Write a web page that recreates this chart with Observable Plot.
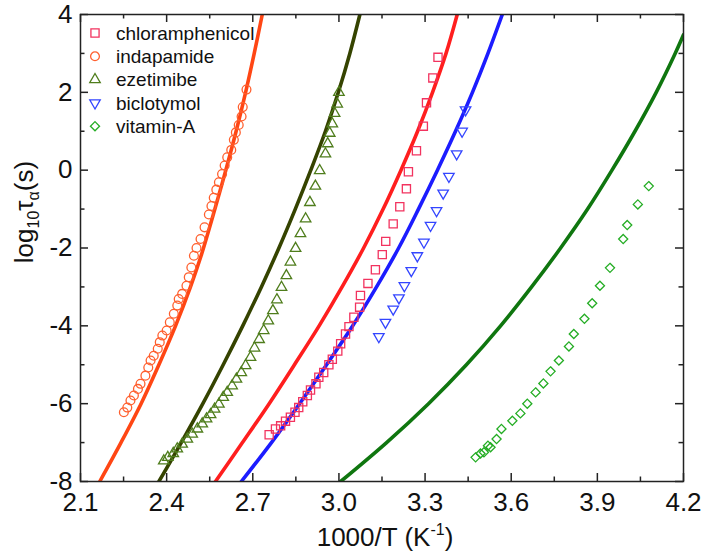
<!DOCTYPE html>
<html><head><meta charset="utf-8">
<script src="https://cdn.jsdelivr.net/npm/d3@7"></script>
<script src="https://cdn.jsdelivr.net/npm/@observablehq/plot@0.6"></script>
<style>body{margin:0;background:#fff} #chart{width:704px;height:555px;position:relative}</style>
</head><body><div id="chart"></div>
<script>
// ---- data ----
const seriesNames = ["chloramphenicol", "indapamide", "ezetimibe", "biclotymol", "vitamin-A"];
const xTicksMajor = [2.1, 2.4, 2.7, 3.0, 3.3, 3.6, 3.9, 4.2];
const xTicksMinor = [2.25, 2.55, 2.85, 3.15, 3.45, 3.75, 4.05];
const yTicksMajor = [-8, -6, -4, -2, 0, 2, 4];
const yTicksMinor = [-7, -5, -3, -1, 1, 3];

const chloramphenicolPoints = [[3.345,2.90],[3.327,2.37],[3.305,1.73],[3.294,1.13],[3.270,0.50],[3.242,-0.04],[3.235,-0.48],[3.212,-0.94],[3.189,-1.38],[3.163,-1.83],[3.151,-2.17],[3.127,-2.56],[3.101,-2.91],[3.075,-3.22],[3.072,-3.52],[3.052,-3.78],[3.035,-4.02],[3.023,-4.21],[3.006,-4.46],[2.996,-4.65],[2.977,-4.86],[2.965,-5.00],[2.947,-5.20],[2.930,-5.32],[2.920,-5.49],[2.901,-5.65],[2.890,-5.79],[2.874,-5.95],[2.860,-6.10],[2.847,-6.22],[2.831,-6.35],[2.814,-6.45],[2.797,-6.57],[2.779,-6.65],[2.757,-6.80]];
const indapamidePoints = [[2.678,2.07],[2.665,1.62],[2.661,1.38],[2.651,1.16],[2.641,0.97],[2.634,0.78],[2.625,0.52],[2.611,0.33],[2.602,0.12],[2.593,-0.10],[2.582,-0.31],[2.573,-0.50],[2.564,-0.71],[2.556,-0.92],[2.547,-1.14],[2.532,-1.47],[2.518,-1.77],[2.504,-2.00],[2.495,-2.20],[2.486,-2.50],[2.477,-2.75],[2.469,-2.97],[2.454,-3.18],[2.442,-3.31],[2.437,-3.48],[2.425,-3.69],[2.411,-3.91],[2.400,-4.12],[2.385,-4.25],[2.376,-4.42],[2.369,-4.59],[2.355,-4.77],[2.344,-4.89],[2.336,-5.07],[2.326,-5.28],[2.309,-5.49],[2.300,-5.62],[2.286,-5.79],[2.274,-5.92],[2.263,-6.10],[2.251,-6.22]];
const ezetimibePoints = [[3.000,2.00],[2.994,1.70],[2.985,1.46],[2.977,1.19],[2.968,0.95],[2.961,0.68],[2.953,0.42],[2.933,-0.01],[2.918,-0.41],[2.899,-0.83],[2.884,-1.25],[2.866,-1.63],[2.849,-2.01],[2.831,-2.36],[2.817,-2.71],[2.800,-3.01],[2.784,-3.33],[2.770,-3.61],[2.754,-3.87],[2.738,-4.12],[2.722,-4.35],[2.706,-4.57],[2.692,-4.81],[2.675,-5.02],[2.660,-5.20],[2.643,-5.37],[2.628,-5.54],[2.611,-5.71],[2.597,-5.84],[2.582,-6.01],[2.567,-6.14],[2.553,-6.28],[2.539,-6.39],[2.524,-6.52],[2.507,-6.65],[2.489,-6.78],[2.472,-6.91],[2.454,-7.04],[2.437,-7.16],[2.423,-7.28],[2.404,-7.38],[2.390,-7.47]];
const biclotymolPoints = [[3.441,1.55],[3.429,1.00],[3.410,0.42],[3.383,-0.16],[3.363,-0.59],[3.340,-1.04],[3.319,-1.42],[3.296,-1.85],[3.273,-2.20],[3.252,-2.58],[3.228,-2.97],[3.209,-3.28],[3.189,-3.57],[3.162,-3.91],[3.139,-4.28]];
const vitaminAPoints = [[3.476,-7.38],[3.493,-7.28],[3.505,-7.25],[3.519,-7.08],[3.528,-7.12],[3.549,-6.91],[3.566,-6.65],[3.604,-6.44],[3.632,-6.25],[3.656,-6.00],[3.685,-5.71],[3.712,-5.48],[3.737,-5.17],[3.766,-4.89],[3.801,-4.53],[3.818,-4.21],[3.855,-3.82],[3.882,-3.42],[3.909,-2.97],[3.944,-2.51],[3.990,-1.77],[4.004,-1.41],[4.041,-0.88],[4.079,-0.41]];

const chloramphenicolFit = [[2.570,-8],[2.664,-7],[2.757,-6],[2.845,-5],[2.931,-4],[3.011,-3],[3.086,-2],[3.154,-1],[3.216,0],[3.274,1],[3.326,2],[3.373,3],[3.412,4]];
const indapamideFit = [[2.167,-8],[2.241,-7],[2.311,-6],[2.373,-5],[2.431,-4],[2.483,-3],[2.520,-2.2],[2.568,-1],[2.606,0],[2.642,1],[2.675,2],[2.705,3],[2.733,4]];
const ezetimibeFit = [[2.373,-8],[2.451,-7],[2.526,-6],[2.597,-5],[2.665,-4],[2.730,-3],[2.791,-2],[2.848,-1],[2.902,0],[2.953,1],[2.998,2],[3.038,3],[3.073,4]];
const biclotymolFit = [[2.660,-8],[2.765,-7],[2.863,-6],[2.957,-5],[3.048,-4],[3.131,-3],[3.208,-2],[3.277,-1],[3.343,0],[3.406,1],[3.465,2],[3.519,3],[3.569,4]];
const vitaminAFit = [[3.006,-8],[3.166,-7],[3.312,-6],[3.444,-5],[3.563,-4],[3.671,-3],[3.772,-2],[3.866,-1],[3.951,0],[4.031,1],[4.105,2],[4.171,3],[4.200,3.48]];

// ---- styles ----
const triangleDown = {
  draw(context, size) {
    const y = Math.sqrt(size / (Math.sqrt(3) * 3));
    context.moveTo(0, y * 2);
    context.lineTo(-Math.sqrt(3) * y, -y);
    context.lineTo(Math.sqrt(3) * y, -y);
    context.closePath();
  }
};
const styles = {
  "chloramphenicol": {points: chloramphenicolPoints, fit: chloramphenicolFit, symbol: d3.symbolSquare, r: 4.6, marker: "#f2335f", line: "#ff1e1e"},
  "indapamide": {points: indapamidePoints, fit: indapamideFit, symbol: d3.symbolCircle, r: 4.4, marker: "#ff5f2e", line: "#ff4614"},
  "ezetimibe": {points: ezetimibePoints, fit: ezetimibeFit, symbol: d3.symbolTriangle, r: 3.9, marker: "#4f7d1c", line: "#354300"},
  "biclotymol": {points: biclotymolPoints, fit: biclotymolFit, symbol: triangleDown, r: 3.9, marker: "#3345ff", line: "#1c1cff"},
  "vitamin-A": {points: vitaminAPoints, fit: vitaminAFit, symbol: d3.symbolDiamond2, r: 4.1, marker: "#24ad24", line: "#0f760f"}
};

const W = 704, H = 555, mL = 80, mR = 21, mT = 14, mB = 74;
const plotW = W - mL - mR, plotH = H - mT - mB;
const majorLen = 8, minorLen = 4.5, axisColor = "#222";

const lineMarks = seriesNames.map(name => Plot.line(styles[name].fit.map(([x, y]) => ({x, y})), {
  x: "x", y: "y", stroke: styles[name].line, strokeWidth: 3.6, curve: "catmull-rom", clip: true
}));
const dotMarks = seriesNames.map(name => Plot.dot(styles[name].points.map(([x, y]) => ({x, y})), {
  x: "x", y: "y", symbol: styles[name].symbol, r: styles[name].r, stroke: styles[name].marker, strokeWidth: 1.3, fill: "none"
}));
const tickOpts = {stroke: axisColor, strokeWidth: 1.5};
const tickMarks = [
  Plot.tickX(xTicksMajor, {x: d => d, insetTop: plotH - majorLen, ...tickOpts}),
  Plot.tickX(xTicksMajor, {x: d => d, insetBottom: plotH - majorLen, ...tickOpts}),
  Plot.tickX(xTicksMinor, {x: d => d, insetTop: plotH - minorLen, ...tickOpts}),
  Plot.tickX(xTicksMinor, {x: d => d, insetBottom: plotH - minorLen, ...tickOpts}),
  Plot.tickY(yTicksMajor, {y: d => d, insetRight: plotW - majorLen, ...tickOpts}),
  Plot.tickY(yTicksMajor, {y: d => d, insetLeft: plotW - majorLen, ...tickOpts}),
  Plot.tickY(yTicksMinor, {y: d => d, insetRight: plotW - minorLen, ...tickOpts}),
  Plot.tickY(yTicksMinor, {y: d => d, insetLeft: plotW - minorLen, ...tickOpts})
];

const chart = Plot.plot({
  width: W, height: H,
  marginLeft: mL, marginRight: mR, marginTop: mT, marginBottom: mB,
  x: {domain: [2.1, 4.2]},
  y: {domain: [-8, 4]},
  style: {fontFamily: "'Liberation Sans', Arial, sans-serif", fontSize: "26px", color: "#111", background: "#fff"},
  marks: [
    ...lineMarks,
    ...dotMarks,
    ...tickMarks,
    Plot.frame({stroke: axisColor, strokeWidth: 1.5}),
    Plot.axisX(xTicksMajor, {anchor: "bottom", tickSize: 0, tickPadding: 11, tickFormat: d => d.toFixed(1), label: null}),
    Plot.axisY(yTicksMajor, {anchor: "left", tickSize: 0, tickPadding: 8, tickFormat: d => String(d), label: null})
  ]
});
document.getElementById("chart").appendChild(chart);

// ---- titles and legend ----
const svg = d3.select(chart);
const ff = "'Liberation Sans', Arial, sans-serif";
const yt = svg.append("text").attr("transform", "translate(33,212) rotate(-90)")
  .attr("text-anchor", "middle").attr("font-size", 26).attr("font-family", ff).attr("fill", "#111");
yt.append("tspan").text("log");
yt.append("tspan").attr("font-size", 16).attr("dy", 6).text("10");
yt.append("tspan").attr("dy", -6).text("τ");
yt.append("tspan").attr("font-size", 16).attr("dy", 6).text("α");
yt.append("tspan").attr("dy", -6).text("(s)");

const xt = svg.append("text").attr("x", 385).attr("y", 546)
  .attr("text-anchor", "middle").attr("font-size", 26).attr("font-family", ff).attr("fill", "#111");
xt.append("tspan").text("1000/T (K");
xt.append("tspan").attr("font-size", 16).attr("dy", -11).text("-1");
xt.append("tspan").attr("dy", 11).text(")");

const lg = svg.append("g").attr("font-family", ff).attr("font-size", 19).attr("fill", "#111").attr("text-anchor", "start");
seriesNames.forEach((name, i) => {
  const s = styles[name];
  const yy = 33 + i * 23.3;
  lg.append("path").attr("transform", `translate(95,${yy})`)
    .attr("d", d3.symbol(s.symbol, s.r * s.r * Math.PI)())
    .attr("fill", "none").attr("stroke", s.marker).attr("stroke-width", 1.3);
  lg.append("text").attr("x", 116).attr("y", yy).attr("dy", "0.35em").attr("text-anchor", "start").text(name);
});
</script>
</body></html>
